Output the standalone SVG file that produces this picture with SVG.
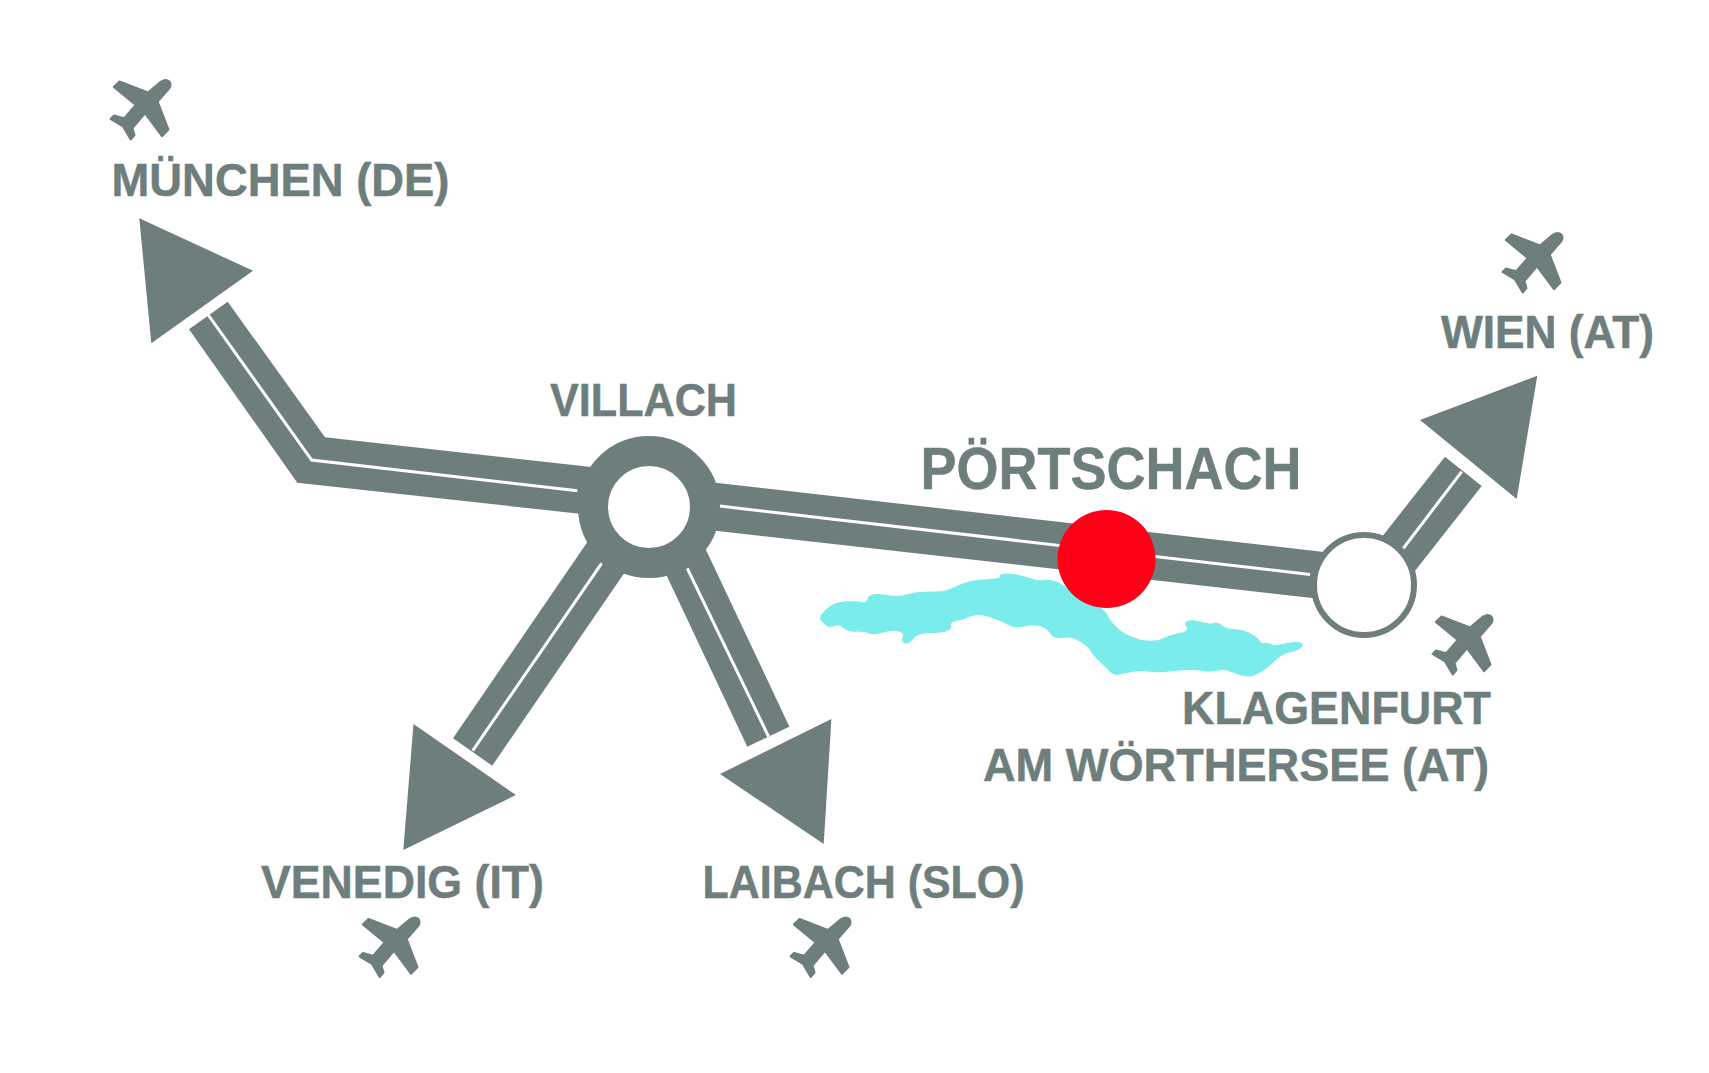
<svg xmlns="http://www.w3.org/2000/svg" width="1709" height="1073" viewBox="0 0 1709 1073">
<style>
.g{fill:#6e7e7d}
.p{fill:#6e7e7d;stroke:#6e7e7d;stroke-width:2;stroke-linejoin:round}
.w{stroke:#fff;stroke-width:3;fill:none}
.t{font-family:"Liberation Sans",Arial,sans-serif;font-weight:700;font-size:47px;fill:#6e7e7d;stroke:#6e7e7d;stroke-width:.5px}
</style>
<defs>
<path id="plane" class="p" d="M59.5 2.5Q61.5 6 59.5 9L47.7 22.5L58.5 50.5L52 57.2L35 34.3L22.5 49L24.5 56L20.7 60.5L13 47.5L.5 40L4 36.5L14 39.3L25.7 26L3.8 8L9.5 2.5L38 13.5L51 2.5Q56 -.5 59.5 2.5Z"/>
</defs>
<rect width="1709" height="1073" fill="#fff"/>
<g id="lake">
<path fill="#7aecec" stroke="#7aecec" stroke-width="4" stroke-linejoin="round" transform="translate(800 560) scale(.4591 .3333)" d="M58 150Q75 127 100 126Q125 125 135 128Q145 132 147 121Q150 110 157 106Q165 102 190 107Q215 113 232 105Q250 98 270 97Q290 97 305 96Q320 95 345 78Q370 62 405 60Q440 57 437 50Q435 42 455 43Q475 45 497 55Q520 65 532 62Q545 60 557 66Q570 72 585 91Q600 110 630 127Q660 145 666 162Q672 180 686 200Q700 220 720 231Q740 243 760 244Q780 245 790 237Q800 230 825 222Q850 215 844 202Q838 190 844 185Q850 180 872 187Q895 195 902 191Q910 187 917 197Q925 208 947 210Q970 212 985 226Q1000 240 1002 247Q1005 255 1012 251Q1020 248 1025 254Q1030 260 1057 252Q1085 245 1090 250Q1096 255 1090 262Q1085 270 1067 275Q1050 280 1037 297Q1025 315 1005 332Q985 350 972 347Q960 345 942 335Q925 325 910 330Q895 335 875 330Q855 325 815 331Q775 338 760 333Q745 328 722 334Q700 340 692 342Q685 345 677 335Q670 325 655 305Q640 285 635 272Q630 260 612 244Q595 228 575 231Q555 235 547 220Q540 205 525 197Q510 190 490 197Q470 205 457 195Q445 185 417 171Q390 158 372 167Q355 177 340 181Q325 185 327 195Q330 205 320 211Q310 217 282 217Q255 218 245 235Q235 252 228 248Q222 245 226 231Q230 218 215 212Q200 207 180 216Q160 225 150 218Q140 212 122 213Q105 215 95 202Q85 190 75 196Q65 203 57 194Q50 185 46 178Q42 172 58 150Z"/>
</g>
<g id="connectors">
<polygon class="g" points="227.7,301.7 325,437.3 600,468 600,516 297.3,482.7 189,329.3"/>
<polyline class="w" points="208.3,315 311.7,460 577.3,490.7"/>
<polygon class="g" points="700,481 1330,552.7 1330,600 700,529"/>
<line class="w" x1="719.5" y1="506" x2="1310" y2="574.5"/>
<polygon class="g" points="1445,456.7 1481.7,486 1400,590 1370,552"/>
<line class="w" x1="1461.7" y1="471.7" x2="1403.3" y2="548.3"/>
<polygon class="g" points="453,738.3 612,506 651,534 492.2,765.7"/>
<line class="w" x1="601.6" y1="563.3" x2="472.7" y2="750.7"/>
<polygon class="g" points="747.3,746.7 648,536 690,516 789.4,726.7"/>
<line class="w" x1="687.3" y1="568.3" x2="768.6" y2="736.7"/>
<polygon id="arrow-muenchen" class="g" points="139.3,218.3 253,270.7 151.3,343.3"/>
<polygon id="arrow-wien" class="g" points="1537.3,375.7 1420,420 1516.7,499"/>
<polygon id="arrow-venedig" class="g" points="413.5,724 515.9,795 403.3,850"/>
<polygon id="arrow-laibach" class="g" points="831.4,719 720,774 823.7,844"/>
</g>
<g id="node-villach">
<circle cx="649" cy="507" r="56" fill="#fff" stroke="#6e7e7d" stroke-width="30"/>
<text class="t" x="550" y="416" textLength="187" lengthAdjust="spacingAndGlyphs">VILLACH</text>
</g>
<g id="node-klagenfurt">
<circle cx="1364" cy="585" r="50" fill="#fff" stroke="#6e7e7d" stroke-width="6"/>
<use href="#plane" x="1432" y="614"/>
<text class="t" x="1182" y="724" textLength="309" lengthAdjust="spacingAndGlyphs">KLAGENFURT</text>
<text class="t" x="983" y="781" textLength="506" lengthAdjust="spacingAndGlyphs">AM WÖRTHERSEE (AT)</text>
</g>
<g id="node-poertschach">
<circle cx="1106.5" cy="559" r="49" fill="#ff0018"/>
<text class="t" style="font-size:59px" x="920.5" y="489" textLength="381" lengthAdjust="spacingAndGlyphs">PÖRTSCHACH</text>
</g>
<g id="node-muenchen">
<use href="#plane" x="110" y="79"/>
<text class="t" x="111.5" y="196" textLength="338" lengthAdjust="spacingAndGlyphs">MÜNCHEN (DE)</text>
</g>
<g id="node-wien">
<use href="#plane" x="1502" y="232"/>
<text class="t" x="1441" y="348" textLength="213" lengthAdjust="spacingAndGlyphs">WIEN (AT)</text>
</g>
<g id="node-venedig">
<use href="#plane" x="359" y="916.5"/>
<text class="t" x="261" y="898" textLength="283" lengthAdjust="spacingAndGlyphs">VENEDIG (IT)</text>
</g>
<g id="node-laibach">
<use href="#plane" x="790" y="916.5"/>
<text class="t" x="702.5" y="898" textLength="322" lengthAdjust="spacingAndGlyphs">LAIBACH (SLO)</text>
</g>
</svg>
